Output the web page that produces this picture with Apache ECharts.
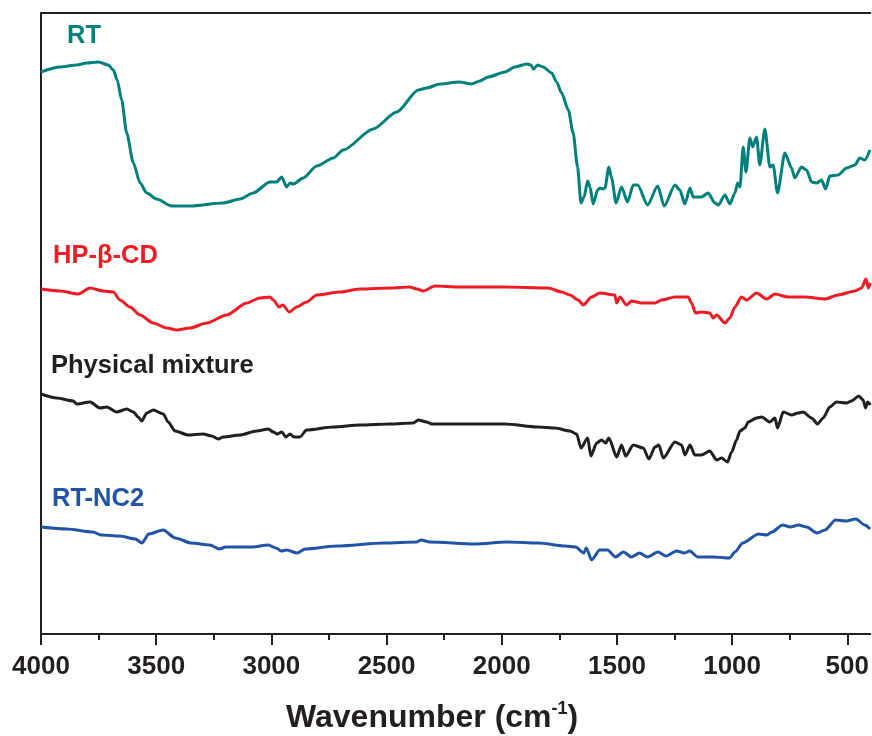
<!DOCTYPE html>
<html>
<head>
<meta charset="utf-8">
<script src="https://cdn.jsdelivr.net/npm/echarts@6/dist/echarts.min.js"></script>
<style>
html,body{margin:0;padding:0;background:#fff;}
#chart{width:872px;height:736px;}
</style>
</head>
<body>
<div id="chart"></div>
<script>
// ---- data (y is an arbitrary offset transmittance scale) ----
const seriesNames = ['RT', 'HP-β-CD', 'Physical mixture', 'RT-NC2'];
const seriesColors = ['#00807c', '#ed1c24', '#231f20', '#2154a6'];
const xTickValues = [4000, 3500, 3000, 2500, 2000, 1500, 1000, 500];
const xMinorTickValues = [3750, 3250, 2750, 2250, 1750, 1250, 750];

const rtWave = [4000,3918,3845,3802,3751,3708,3686,3669,3650,3628,3599,3570,3541,3498,3433,3353,3210,3136,3079,3006,2977,2955,2934,2919,2905,2862,2803,2731,2688,2558,2456,2362,2326,2268,2185,2131,2095,2059,1986,1943,1892,1873,1863,1844,1820,1783,1762,1740,1711,1690,1671,1656,1643,1627,1617,1603,1584,1574,1560,1552,1535,1523,1504,1480,1454,1429,1410,1367,1323,1295,1248,1227,1205,1183,1169,1133,1104,1075,1060,1031,1010,988,976,966,952,940,923,911,894,880,858,836,822,803,771,742,728,699,677,655,633,612,594,576,540,503,467,446,424,402];
const rtValue = [562,567,569,571,572,569,564,554,534,501,471,451,441,435,428,428,431,435,441,452,452,457,447,451,450,456,468,476,484,505,522,544,546,550,552,550,553,557,562,567,570,569,565,569,567,561,552,541,524,501,467,431,437,453,447,430,444,446,445,446,467,456,431,447,432,449,449,429,448,428,449,444,430,446,437,437,441,431,429,439,430,441,451,447,487,462,496,487,497,469,505,467,469,441,481,466,456,467,464,452,451,454,445,458,459,466,469,476,474,484];

const hpWave = [4000,3918,3838,3787,3730,3686,3657,3614,3570,3513,3454,3411,3353,3281,3194,3107,3050,3006,2992,2966,2951,2922,2890,2847,2803,2702,2616,2485,2399,2369,2341,2290,2185,1986,1798,1740,1704,1668,1646,1610,1574,1509,1501,1487,1458,1436,1393,1335,1306,1248,1191,1176,1159,1133,1097,1082,1067,1031,1010,988,959,937,894,850,814,757,684,597,540,467,438,419,409,400];
const hpValue = [345,343,340,346,343,342,334,327,319,311,306,304,306,311,319,331,336,337,334,327,329,322,327,332,339,342,345,346,347,345,343,348,347,347,346,342,339,334,329,337,341,339,331,337,329,333,331,331,334,337,337,331,321,322,321,316,319,311,316,327,337,334,341,335,340,337,337,335,339,343,346,355,346,351];

const pmWave = [4000,3932,3860,3845,3787,3744,3715,3671,3628,3599,3578,3563,3541,3513,3469,3448,3418,3361,3296,3259,3230,3209,3136,3064,3013,2992,2974,2955,2937,2919,2902,2876,2847,2731,2616,2485,2384,2362,2326,2304,2185,1986,1842,1769,1704,1675,1656,1627,1613,1588,1567,1549,1535,1501,1480,1462,1429,1386,1361,1335,1318,1299,1248,1219,1205,1183,1162,1133,1097,1067,1046,1020,1002,981,966,945,930,894,872,836,814,803,778,742,713,692,655,629,605,576,547,503,482,450,431,421,412,400];
const pmValue = [240,236,233,230,232,226,227,222,225,222,217,213,221,224,220,212,203,199,200,198,195,197,199,203,205,202,200,202,197,200,197,197,204,207,209,210,211,214,212,210,210,210,207,206,203,200,186,196,178,191,194,191,196,177,189,178,189,186,175,187,189,176,192,189,179,189,179,179,183,174,176,172,182,194,203,206,212,216,217,212,216,206,222,219,221,222,216,210,216,227,232,231,233,238,234,226,232,229];

const ncWave = [4000,3889,3774,3740,3659,3590,3562,3532,3470,3417,3348,3267,3226,3198,3083,3014,2980,2957,2934,2888,2853,2715,2508,2369,2351,2312,2116,1978,1840,1725,1679,1644,1633,1610,1575,1541,1506,1472,1437,1402,1368,1322,1287,1241,1207,1184,1149,1080,1011,988,954,885,850,827,781,747,712,677,631,597,551,505,463,424,401];
const ncValue = [107,105,102,99,98,95,91,100,104,96,91,89,85,87,87,89,86,83,84,81,85,88,91,92,94,92,90,92,91,88,87,81,86,74,84,84,77,82,77,81,77,82,78,83,81,83,77,77,76,82,91,100,99,102,109,107,109,107,101,104,114,113,115,109,105];

const waves = [rtWave, hpWave, pmWave, ncWave];
const values = [rtValue, hpValue, pmValue, ncValue];

// ---- chart ----
const chart = echarts.init(document.getElementById('chart'), null, {renderer: 'canvas'});
const FONT = '"Liberation Sans", Arial, Helvetica, sans-serif';
const AX = '#231f20';

const series = seriesNames.map((name, k) => ({
  name: name,
  type: 'line',
  xAxisIndex: 0,
  yAxisIndex: 0,
  data: waves[k].map((w, i) => [-w, values[k][i]]),
  showSymbol: false,
  symbol: 'none',
  smooth: 0.25,
  smoothMonotone: 'x',
  lineStyle: {color: seriesColors[k], width: 3},
  itemStyle: {color: seriesColors[k]},
  clip: true,
  silent: true
}));

const labelPos = [[67, 37], [53, 257], [51, 367], [52, 500]];
const graphics = seriesNames.map((name, k) => ({
  type: 'text',
  left: labelPos[k][0],
  top: labelPos[k][1] - 14,
  style: {
    text: name,
    fill: seriesColors[k],
    font: 'bold 25.5px ' + FONT
  }
}));
graphics.push({
  type: 'text',
  left: 286,
  top: 700,
  style: {
    text: '{a|Wavenumber (cm}{s|-1}{a|)}',
    rich: {
      a: {fontSize: 32, fontWeight: 'bold', fontFamily: FONT, fill: AX, color: AX, lineHeight: 36},
      s: {fontSize: 18, fontWeight: 'bold', fontFamily: FONT, fill: AX, color: AX, verticalAlign: 'top', lineHeight: 36}
    }
  }
});

const negate = arr => arr.map(v => -v);

chart.setOption({
  animation: false,
  backgroundColor: '#ffffff',
  grid: {left: 41, right: 0, top: 13, bottom: 102, containLabel: false},
  xAxis: [
    {
      type: 'value', position: 'bottom', min: -4000, max: -400, interval: 500,
      axisLine: {show: true, onZero: false, lineStyle: {color: AX, width: 2}},
      axisTick: {show: true, length: 11, customValues: negate(xTickValues), lineStyle: {color: AX, width: 2}},
      axisLabel: {
        show: true, margin: 20, fontSize: 26, fontWeight: 'bold', fontFamily: FONT, color: AX,
        customValues: negate(xTickValues),
        formatter: v => String(-v)
      },
      splitLine: {show: false}
    },
    {
      type: 'value', position: 'bottom', min: -4000, max: -400, interval: 250, gridIndex: 0,
      axisLine: {show: false},
      axisTick: {show: true, length: 6, customValues: negate(xMinorTickValues), lineStyle: {color: AX, width: 2}},
      axisLabel: {show: false},
      splitLine: {show: false}
    },
    {
      type: 'value', position: 'top', min: -4000, max: -400, gridIndex: 0,
      axisLine: {show: true, onZero: false, lineStyle: {color: AX, width: 2}},
      axisTick: {show: false},
      axisLabel: {show: false},
      splitLine: {show: false}
    }
  ],
  yAxis: {
    type: 'value', min: 0, max: 621,
    axisLine: {show: true, onZero: false, lineStyle: {color: AX, width: 2}},
    axisTick: {show: false},
    axisLabel: {show: false},
    splitLine: {show: false}
  },
  series: series,
  graphic: graphics
});
</script>
</body>
</html>
